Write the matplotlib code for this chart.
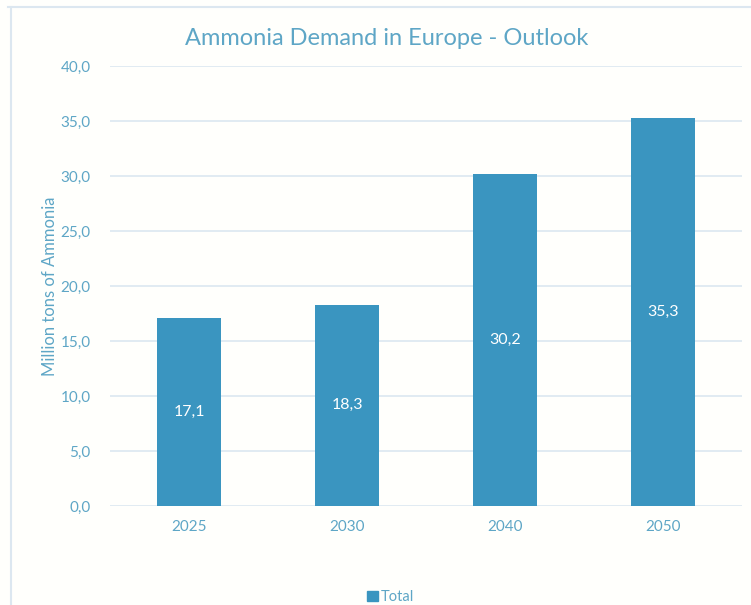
import matplotlib.pyplot as plt
from matplotlib.lines import Line2D
from matplotlib.patches import Patch
import numpy as np

years = ['2025', '2030', '2040', '2050']
demand = [17.1, 18.3, 30.2, 35.3]
y_ticks = [0, 5, 10, 15, 20, 25, 30, 35, 40]

bar_color = '#3a95c0'
text_color = '#5ea6c6'
grid_color = '#dce7f0'

plt.rcParams['font.family'] = ['Lato', 'DejaVu Sans']

fig = plt.figure(figsize=(7.51, 6.05), dpi=100, facecolor='#fffffc')
ax = fig.add_axes([0.1465, 0.1636, 0.8415, 0.7273])
ax.set_facecolor('none')

x = np.arange(len(years))
bars = ax.bar(x, demand, width=0.41, color=bar_color, zorder=3, label='Total')

for b, v in zip(bars, demand):
  ax.text(b.get_x() + b.get_width() / 2, v / 2, f'{v:.1f}'.replace('.', ','),
          ha='center', va='center', color='white', fontsize=11.5)

ax.set_xlim(-0.5, len(years) - 0.5)
ax.set_ylim(0, 40)
ax.set_yticks(y_ticks)
ax.set_yticklabels([f'{t:.1f}'.replace('.', ',') for t in y_ticks])
ax.set_xticks(x)
ax.set_xticklabels(years)
ax.tick_params(colors=text_color, labelsize=11, length=0)
ax.tick_params(axis='y', pad=14)
ax.tick_params(axis='x', pad=10)
ax.grid(axis='y', color=grid_color, linewidth=1.2, zorder=0)
for s in ax.spines.values():
  s.set_visible(False)

ax.set_ylabel('Million tons of Ammonia', color=text_color, fontsize=12, labelpad=2)
fig.text(0.515, 0.937, 'Ammonia Demand in Europe - Outlook', ha='center', va='center',
         color=text_color, fontsize=17)

fig.legend(handles=[Patch(color=bar_color, label='Total')], loc='center',
           bbox_to_anchor=(0.52, 0.013), frameon=False, fontsize=10.5,
           labelcolor=text_color, handlelength=0.7, handleheight=0.7, handletextpad=0.2)

# outer chart border
fig.add_artist(Line2D([8 / 751, 1], [1 - 7 / 605, 1 - 7 / 605], color=grid_color, lw=1.5))
fig.add_artist(Line2D([11 / 751, 11 / 751], [0, 1 - 7 / 605], color=grid_color, lw=1.5))

fig.savefig('out.png', dpi=100, facecolor=fig.get_facecolor())
